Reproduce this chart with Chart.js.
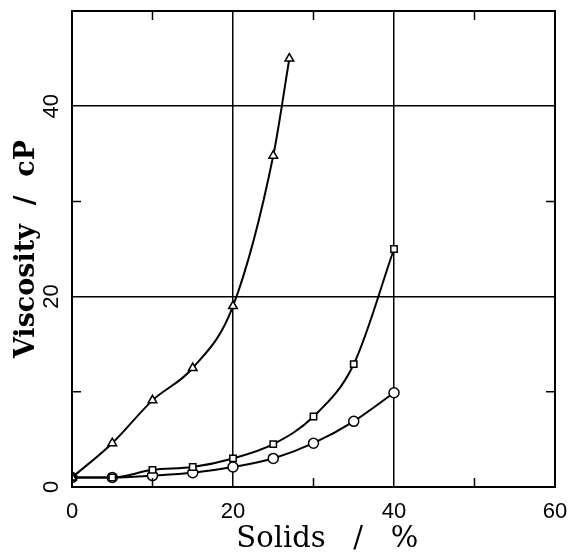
<!DOCTYPE html>
<html>
<head>
<meta charset="utf-8">
<script src="https://cdn.jsdelivr.net/npm/chart.js@4"></script>
<style>
  html, body { margin: 0; padding: 0; background: #fff; }
  #wrap { width: 572px; height: 558px; }
</style>
</head>
<body>
<div id="wrap"><canvas id="chart" width="572" height="558"></canvas></div>
<script>
// values (solids %, viscosity cP)
var solidsTriangle = [0, 5, 10, 15, 20, 25, 27];
var viscTriangle = [1, 4.6, 9.1, 12.5, 19, 34.8, 45];

var solidsSquare = [0, 5, 10, 15, 20, 25, 30, 35, 40];
var viscSquare = [1, 1, 1.8, 2.1, 3, 4.5, 7.4, 12.9, 25];

var solidsCircle = [0, 5, 10, 15, 20, 25, 30, 35, 40];
var viscCircle = [1, 1, 1.2, 1.5, 2.1, 3, 4.6, 6.9, 9.9];

var xTickLabels = [0, 20, 40, 60];
var yTickLabels = [0, 20, 40];
var xMinorTicks = [10, 30, 50];
var yMinorTicks = [10, 30];

function pairs(xs, ys) {
    return xs.map(function (x, i) { return { x: x, y: ys[i] }; });
}

function series(xs, ys, style, r) {
    return {
        data: pairs(xs, ys),
        borderColor: '#000',
        borderWidth: 2,
        pointStyle: style,
        pointRadius: r,
        pointBackgroundColor: '#fff',
        pointBorderColor: '#000',
        pointBorderWidth: 1.5,
        cubicInterpolationMode: 'monotone',
        fill: false
    };
}

// inward minor ticks on all four sides
var minorTicks = {
    id: 'minorTicks',
    afterDraw: function (chart) {
        var ctx = chart.ctx, a = chart.chartArea;
        var xs = chart.scales.x, ys = chart.scales.y;
        ctx.save();
        ctx.strokeStyle = '#000';
        ctx.lineWidth = 1.5;
        ctx.beginPath();
        xMinorTicks.forEach(function (v) {
            var px = xs.getPixelForValue(v);
            ctx.moveTo(px, a.bottom); ctx.lineTo(px, a.bottom - 9);
            ctx.moveTo(px, a.top); ctx.lineTo(px, a.top + 9);
        });
        yMinorTicks.forEach(function (v) {
            var py = ys.getPixelForValue(v);
            ctx.moveTo(a.left, py); ctx.lineTo(a.left + 9, py);
            ctx.moveTo(a.right, py); ctx.lineTo(a.right - 9, py);
        });
        ctx.stroke();
        ctx.lineWidth = 2;
        ctx.strokeRect(a.left, a.top, a.right - a.left, a.bottom - a.top);
        ctx.restore();
    }
};

function gridColor(labels) {
    return function (c) {
        return labels.indexOf(c.tick.value) >= 0 ? '#000' : 'rgba(0,0,0,0)';
    };
}

function noOverflow(s) {
    s.paddingTop = 0;
    s.paddingBottom = 0;
    s.paddingLeft = 0;
    s.paddingRight = 0;
}

new Chart(document.getElementById('chart').getContext('2d'), {
    type: 'line',
    data: {
        datasets: [
            series(solidsTriangle, viscTriangle, 'triangle', 5),
            series(solidsSquare, viscSquare, 'rect', 4.5),
            series(solidsCircle, viscCircle, 'circle', 5)
        ]
    },
    options: {
        responsive: false,
        animation: false,
        layout: { padding: { top: 11, right: 17, left: 0, bottom: 0 } },
        scales: {
            x: {
                type: 'linear',
                min: 0,
                max: 60,
                afterFit: function (s) { s.height = 71; noOverflow(s); },
                grid: { color: gridColor(xTickLabels), lineWidth: 1.5, drawTicks: false },
                border: { display: false },
                ticks: {
                    stepSize: 10,
                    padding: 12,
                    maxRotation: 0,
                    color: '#000',
                    font: { family: 'Liberation Sans', size: 22 },
                    callback: function (v) { return xTickLabels.indexOf(v) >= 0 ? String(v) : ''; }
                },
                title: {
                    display: true,
                    text: '   Solids   /   %',
                    color: '#000',
                    font: { family: 'DejaVu Serif', size: 29 },
                    padding: { top: 0, bottom: 1 }
                }
            },
            y: {
                type: 'linear',
                min: 0,
                max: 50,
                afterFit: function (s) { s.width = 72; noOverflow(s); },
                grid: { color: gridColor(yTickLabels), lineWidth: 1.5, drawTicks: false },
                border: { display: false },
                ticks: {
                    stepSize: 10,
                    padding: 8,
                    minRotation: 90,
                    maxRotation: 90,
                    crossAlign: 'center',
                    color: '#000',
                    font: { family: 'Liberation Sans', size: 22 },
                    callback: function (v) { return yTickLabels.indexOf(v) >= 0 ? String(v) : ''; }
                },
                title: {
                    display: true,
                    text: 'Viscosity  /  cP',
                    color: '#000',
                    font: { family: 'DejaVu Serif', size: 27, weight: 'bold' },
                    padding: { top: 11, bottom: 0 }
                }
            }
        },
        plugins: {
            legend: { display: false },
            tooltip: { enabled: false }
        }
    },
    plugins: [minorTicks]
});
</script>
</body>
</html>
